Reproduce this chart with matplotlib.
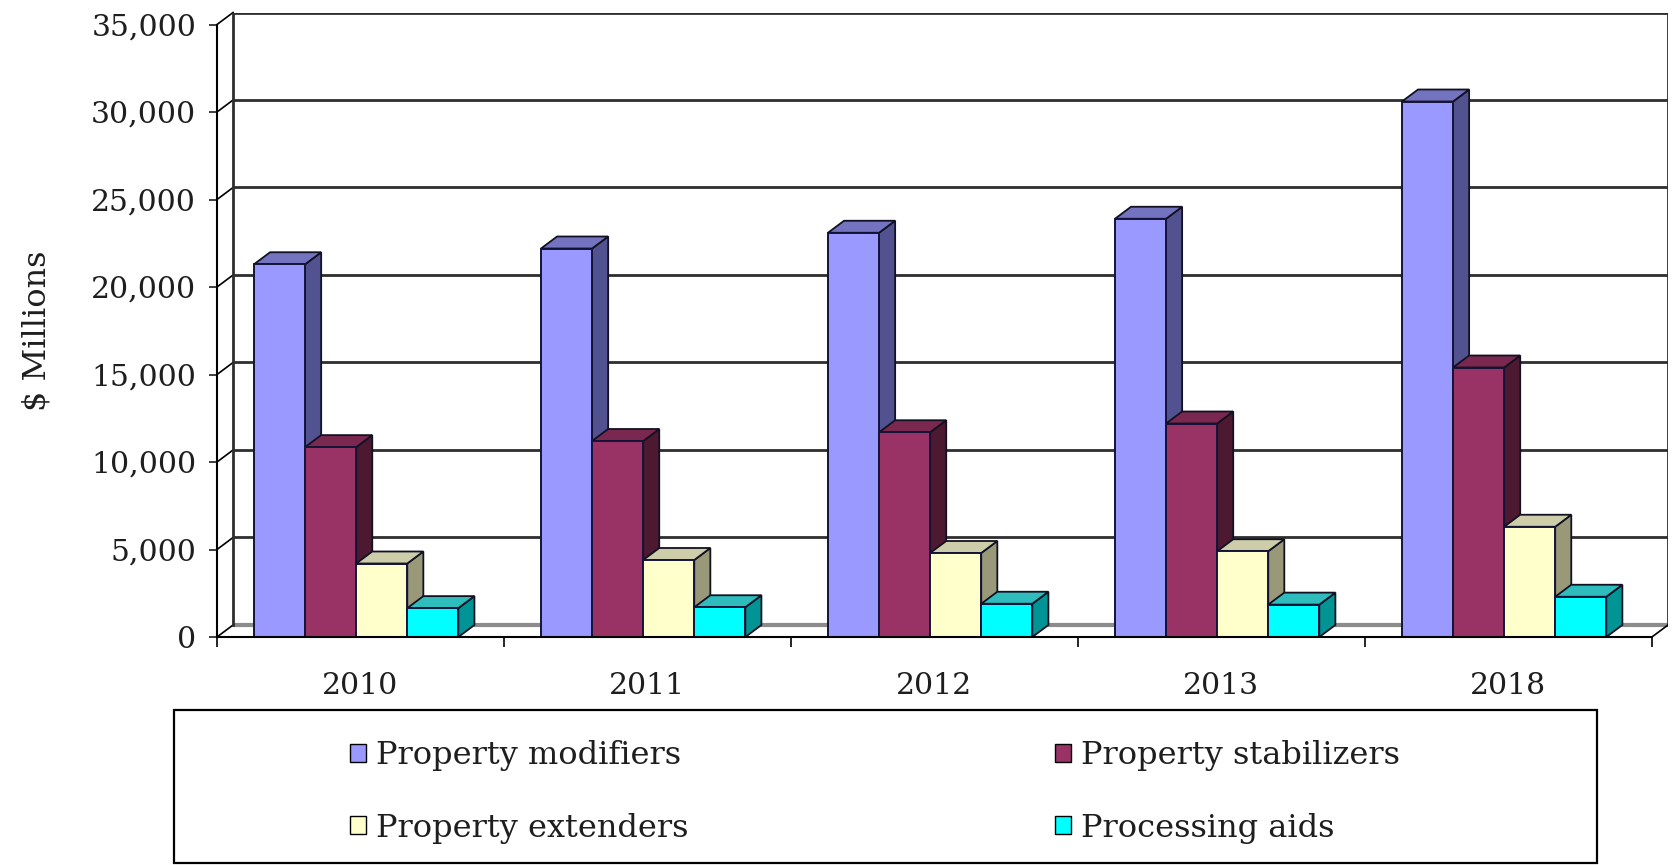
import matplotlib.pyplot as plt
from matplotlib.patches import Polygon, Rectangle, Patch
from matplotlib.ticker import FuncFormatter

# Data ------------------------------------------------------------------------

years = ['2010', '2011', '2012', '2013', '2018']

modifiers = [21300, 22200, 23100, 23900, 30600]
stabilizers = [10850, 11200, 11700, 12200, 15400]
extenders = [4200, 4400, 4800, 4900, 6300]
proc_aids = [1650, 1700, 1900, 1850, 2300]

series_names = ['Property modifiers', 'Property stabilizers',
                'Property extenders', 'Processing aids']

# front, side, top shades for each series
face_colors = [
    ('#9999ff', '#525290', '#7373c0'),
    ('#993366', '#4c1930', '#7a2850'),
    ('#ffffcc', '#99997a', '#cdcdaa'),
    ('#00ffff', '#009494', '#2fbcbc'),
]

# Layout ----------------------------------------------------------------------

W, H = 1673, 865
BAR_W = 0.178      # bar width in category units
GROUP_OFF = 0.129  # left gap before first bar of a group
DX = 0.056         # depth offset, category units
DY = 686           # depth offset, value units
YMAX = 35000
TXT = '#1e1e1e'

plt.rcParams['font.family'] = 'DejaVu Serif'

fig = plt.figure(figsize=(W / 100, H / 100), dpi=100)
ax = fig.add_axes([217 / W, 1 - 637 / H, 1451 / W, (637 - 12.5) / H])
ax.set_xlim(0, len(years) + DX)
ax.set_ylim(0, YMAX + DY)

# back wall with gridlines
steps = list(range(0, YMAX + 1, 5000))
for v in steps:
    c, lw = ('#8c8c8c', 3.0) if v == 0 else ('#2e2e2e', 2.0)
    ax.plot([DX, len(years) + DX], [v + DY, v + DY], color=c, lw=lw,
            zorder=1, solid_capstyle='butt')
    # side wall diagonals
    ax.plot([0, DX], [v, v + DY], color='black', lw=1.2, zorder=1,
            clip_on=False)
ax.plot([DX, DX], [DY, YMAX + DY], color='#2e2e2e', lw=2.0, zorder=1)
ax.plot([len(years) + DX] * 2, [DY, YMAX + DY], color='#2e2e2e', lw=2.0,
        zorder=1)
ax.plot([len(years), len(years) + DX], [0, DY], color='black', lw=1.2,
        zorder=1)

# bars with faux depth
all_series = [modifiers, stabilizers, extenders, proc_aids]
z = 3
for i in range(len(years)):
    for j, vals in enumerate(all_series):
        front, side, top = face_colors[j]
        v = vals[i]
        xl = i + GROUP_OFF + j * BAR_W
        xr = xl + BAR_W
        ax.add_patch(Polygon([(xr, 0), (xr + DX, DY), (xr + DX, v + DY), (xr, v)],
                             closed=True, facecolor=side, edgecolor='#111122',
                             lw=1.3, zorder=z))
        ax.add_patch(Polygon([(xl, v), (xl + DX, v + DY), (xr + DX, v + DY), (xr, v)],
                             closed=True, facecolor=top, edgecolor='#111122',
                             lw=1.3, zorder=z))
        ax.bar(xl, v, width=BAR_W, align='edge', color=front,
               edgecolor='#141438', lw=1.4, zorder=z)
        z += 1

# axes styling
for s in ['top', 'right']:
    ax.spines[s].set_visible(False)
ax.spines['left'].set_bounds(0, YMAX)
ax.spines['bottom'].set_bounds(0, len(years))
ax.spines['left'].set_linewidth(1.5)
ax.spines['bottom'].set_linewidth(1.5)
ax.spines['bottom'].set_zorder(50)

ax.set_yticks(steps)
ax.yaxis.set_major_formatter(FuncFormatter(lambda v, p: f'{int(v):,}'))
ax.tick_params(axis='y', direction='out', length=6, width=1.2, pad=9,
               labelsize=21.5, colors=TXT)

ax.set_xticks(range(len(years) + 1))
ax.set_xticklabels([])
ax.set_xticks([i + 0.5 for i in range(len(years))], minor=True)
ax.set_xticklabels(years, minor=True)
ax.tick_params(axis='x', which='major', direction='out', length=7, width=1.2)
ax.tick_params(axis='x', which='minor', length=0, pad=25, labelsize=21.5,
               colors=TXT)

fig.text(37 / W, 1 - 331 / H, '$ Millions', rotation=90, ha='center',
         va='center', fontsize=23, color=TXT)

# legend box and entries
fig.add_artist(Rectangle((174 / W, 2 / H), (1597 - 174) / W, (863 - 710) / H,
                         transform=fig.transFigure, fill=False,
                         edgecolor='black', lw=1.6))
handles = [Patch(facecolor=c[0], edgecolor='black', lw=1.0) for c in face_colors]
for cols, x0 in [((0, 2), 350), ((1, 3), 1055)]:
    fig.legend([handles[k] for k in cols], [series_names[k] for k in cols],
               loc='upper left', bbox_to_anchor=(x0 / W, 1 - 740 / H),
               frameon=False, borderpad=0, borderaxespad=0,
               handlelength=0.5, handleheight=0.5, handletextpad=0.3,
               labelspacing=1.3, fontsize=23, labelcolor=TXT)

fig.savefig('out.png', dpi=100)
